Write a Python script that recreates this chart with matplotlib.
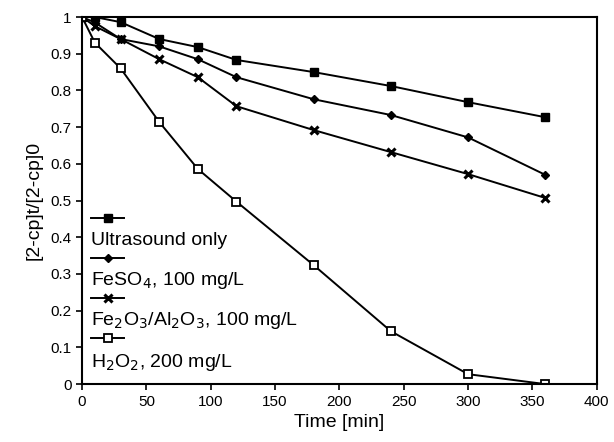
import numpy as np
import matplotlib
matplotlib.use('Agg')
import matplotlib.pyplot as plt

plt.rcParams['font.family'] = ['Liberation Sans', 'DejaVu Sans']

# Time points [min]
t = [0, 10, 30, 60, 90, 120, 180, 240, 300, 360]

# [2-cp]t/[2-cp]0
ultrasound = [1.0, 1.0, 0.986, 0.94, 0.918, 0.883, 0.85, 0.812, 0.768, 0.727]
feso4 = [1.0, 0.985, 0.94, 0.92, 0.885, 0.836, 0.776, 0.733, 0.672, 0.57]
fe2o3 = [1.0, 0.975, 0.94, 0.885, 0.836, 0.757, 0.692, 0.632, 0.572, 0.507]
h2o2 = [1.0, 0.93, 0.86, 0.714, 0.586, 0.497, 0.324, 0.144, 0.027, 0.0]

labels = ['Ultrasound only',
          r'FeSO$_4$, 100 mg/L',
          r'Fe$_2$O$_3$/Al$_2$O$_3$, 100 mg/L',
          r'H$_2$O$_2$, 200 mg/L']

styles = [dict(marker='s', ms=6, mfc='black', mec='black'),
          dict(marker='D', ms=4, mfc='black', mec='black'),
          dict(marker='x', ms=6, mew=2.2, mec='black'),
          dict(marker='s', ms=6, mfc='white', mec='black', mew=1.3)]

fig = plt.figure(figsize=(6.14, 4.42), dpi=100)
ax = fig.add_axes([0.1336, 0.131, 0.8384, 0.8305])

for y, st in zip([ultrasound, feso4, fe2o3, h2o2], styles):
    ax.plot(t, y, color='black', lw=1.4, **st)

# legend drawn by hand: handle line above each label
hy = [0.452, 0.343, 0.234, 0.125]
ty = [0.392, 0.281, 0.172, 0.06]
for lab, st, h, ty_ in zip(labels, styles, hy, ty):
    ax.plot([0.017, 0.082], [h, h], color='black', lw=1.4,
            transform=ax.transAxes, clip_on=False)
    ax.plot([0.05], [h], color='black', transform=ax.transAxes,
            clip_on=False, **st)
    ax.text(0.017, ty_, lab, fontsize=14, transform=ax.transAxes,
            va='center', ha='left')

ax.set_xlim(0, 400)
ax.set_ylim(0, 1.0)
ax.set_xticks(np.arange(0, 401, 50))
ax.set_yticks(np.arange(0, 1.01, 0.1))
ax.set_yticklabels(['0', '0.1', '0.2', '0.3', '0.4', '0.5',
                    '0.6', '0.7', '0.8', '0.9', '1'])
ax.tick_params(direction='out', length=4, width=1.2, labelsize=11)
for s in ax.spines.values():
    s.set_linewidth(1.5)

ax.set_xlabel('Time [min]', fontsize=14, labelpad=4)
ax.set_ylabel('[2-cp]t/[2-cp]0', fontsize=14, labelpad=6)

fig.savefig('out.png', dpi=100)
